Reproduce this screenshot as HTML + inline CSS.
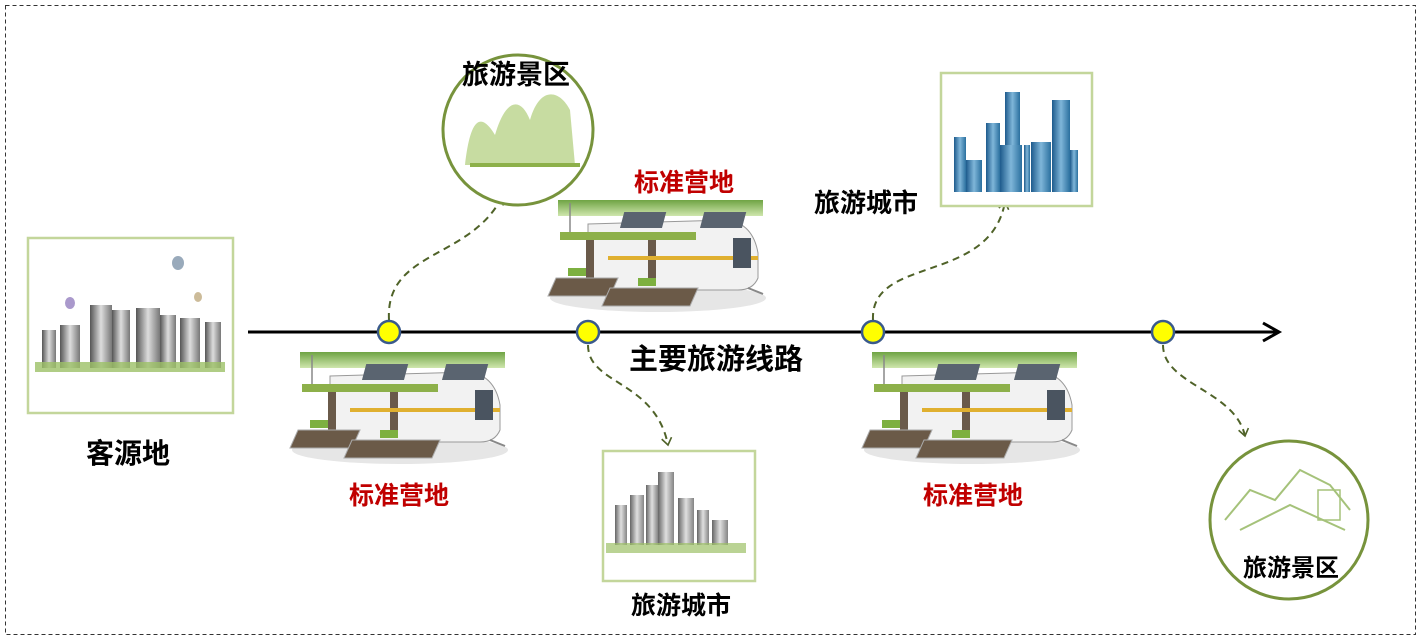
<!DOCTYPE html>
<html><head><meta charset="utf-8"><style>
html,body{margin:0;padding:0;background:#fff}
svg{display:block}
text{font-family:"Liberation Sans","Noto Sans CJK SC",sans-serif;font-weight:bold}
</style></head><body>
<svg width="1422" height="639" viewBox="0 0 1422 639" xmlns="http://www.w3.org/2000/svg">
<defs>
<linearGradient id="grass" x1="0" x2="0" y1="0" y2="1"><stop offset="0" stop-color="#5f9a2f"/><stop offset="1" stop-color="#c9e3a4"/></linearGradient>
<linearGradient id="bldg" x1="0" x2="1"><stop offset="0" stop-color="#1d5a8c"/><stop offset="0.5" stop-color="#7fb6d9"/><stop offset="1" stop-color="#2a6f9e"/></linearGradient>
<linearGradient id="gbldg" x1="0" x2="1"><stop offset="0" stop-color="#555"/><stop offset="0.5" stop-color="#ddd"/><stop offset="1" stop-color="#777"/></linearGradient>
<marker id="ah" markerWidth="12" markerHeight="12" refX="9" refY="6" orient="auto" markerUnits="userSpaceOnUse"><path d="M2,1 L9,6 L2,11" fill="none" stroke="#4f6228" stroke-width="1.6"/></marker>
<g id="car">
<ellipse cx="110" cy="100" rx="108" ry="14" fill="#e6e6e6"/>
<rect x="10" y="2" width="205" height="16" fill="url(#grass)" opacity="0.9"/>
<line x1="22" y1="5" x2="22" y2="38" stroke="#888" stroke-width="1.5"/>
<path d="M40,26 L180,22 Q205,26 210,55 L210,80 Q205,92 190,92 L40,92 Z" fill="#f2f2f2" stroke="#999"/>
<rect x="80" y="14" width="42" height="16" fill="#5a6470" transform="skewX(-15)"/>
<rect x="160" y="14" width="42" height="16" fill="#5a6470" transform="skewX(-15)"/>
<rect x="12" y="34" width="70" height="8" fill="#8db04a"/>
<rect x="66" y="34" width="82" height="8" fill="#8db04a"/>
<rect x="38" y="42" width="8" height="40" fill="#6a5a4a"/>
<rect x="100" y="42" width="8" height="46" fill="#6a5a4a"/>
<rect x="60" y="58" width="150" height="4" fill="#e0b030"/>
<rect x="185" y="40" width="18" height="30" fill="#4a5460"/>
<path d="M8,80 L70,80 L62,98 L0,98 Z" fill="#6b5a48" stroke="#aaa"/>
<path d="M62,90 L150,90 L142,108 L54,108 Z" fill="#6b5a48" stroke="#aaa"/>
<rect x="20" y="70" width="18" height="8" fill="#7db040"/>
<rect x="90" y="80" width="18" height="8" fill="#7db040"/>
<line x1="200" y1="90" x2="215" y2="96" stroke="#888" stroke-width="2"/>
</g>
</defs>
<rect x="5.5" y="5.5" width="1410" height="629" fill="none" stroke="#333" stroke-width="1" stroke-dasharray="4,3"/>

<line x1="248" y1="332" x2="1277" y2="332" stroke="#000" stroke-width="3"/>
<path d="M1263,323 L1279,332 L1263,341" fill="none" stroke="#000" stroke-width="3"/>

<g fill="none" stroke="#4f6228" stroke-width="2" stroke-dasharray="7,5" marker-end="url(#ah)">
<path d="M389,320 C385,250 470,260 502,197"/>
<path d="M588,345 C588,385 655,380 668,445"/>
<path d="M873,320 C870,255 990,285 1005,202"/>
<path d="M1163,345 C1163,385 1235,390 1245,436"/>
</g>

<g fill="#ffff00" stroke="#3a5a8c" stroke-width="2.5">
<circle cx="389" cy="332" r="11"/><circle cx="588" cy="332" r="11"/><circle cx="873" cy="332" r="11"/><circle cx="1163" cy="332" r="11"/>
</g>

<rect x="28" y="238" width="205" height="175" fill="#fff" stroke="#c3d69b" stroke-width="2.5"/>
<g>
<rect x="42" y="330" width="14" height="38" fill="url(#gbldg)"/>
<rect x="60" y="325" width="20" height="43" fill="url(#gbldg)"/>
<rect x="90" y="305" width="22" height="63" fill="url(#gbldg)"/>
<rect x="112" y="310" width="18" height="58" fill="url(#gbldg)"/>
<rect x="136" y="308" width="24" height="60" fill="url(#gbldg)"/>
<rect x="160" y="315" width="16" height="53" fill="url(#gbldg)"/>
<rect x="180" y="318" width="20" height="50" fill="url(#gbldg)"/>
<rect x="205" y="322" width="16" height="46" fill="url(#gbldg)"/>
<rect x="35" y="362" width="190" height="10" fill="#9cc066" opacity="0.8"/>
<ellipse cx="178" cy="263" rx="6" ry="7" fill="#9ab"/>
<ellipse cx="70" cy="303" rx="5" ry="6" fill="#a9c"/>
<ellipse cx="198" cy="297" rx="4" ry="5" fill="#cb9"/>
</g>
<text x="128" y="463" font-size="28" text-anchor="middle" fill="#000">客源地</text>

<circle cx="518" cy="130" r="75" fill="#fff" stroke="#77933c" stroke-width="3"/>
<path d="M465,165 C470,120 480,110 495,135 C505,100 520,95 530,120 C540,85 560,90 570,110 L575,165 Z" fill="#b9d389" opacity="0.8"/>
<path d="M470,165 L580,165" stroke="#8db04a" stroke-width="4"/>
<text x="516" y="84" font-size="27" text-anchor="middle" fill="#000">旅游景区</text>

<circle cx="1289" cy="520" r="79" fill="#fff" stroke="#77933c" stroke-width="3"/>
<path d="M1225,520 L1250,490 L1275,500 L1300,470 L1330,485 L1350,510" fill="none" stroke="#a5c27a" stroke-width="2"/>
<path d="M1240,530 L1290,505 L1345,530" fill="none" stroke="#a5c27a" stroke-width="2"/>
<rect x="1318" y="490" width="22" height="30" fill="none" stroke="#a5c27a" stroke-width="1.5"/>
<text x="1291" y="576" font-size="24" text-anchor="middle" fill="#000">旅游景区</text>

<rect x="941" y="73" width="151" height="133" fill="#fff" stroke="#c3d69b" stroke-width="2.5"/>
<g fill="url(#bldg)">
<rect x="954" y="137" width="12" height="55"/>
<rect x="966" y="160" width="16" height="32"/>
<rect x="986" y="123" width="14" height="69"/>
<rect x="1005" y="92" width="15" height="100"/>
<rect x="1000" y="145" width="22" height="47"/>
<rect x="1024" y="145" width="6" height="47"/>
<rect x="1031" y="142" width="20" height="50"/>
<rect x="1052" y="100" width="18" height="92"/>
<rect x="1070" y="150" width="8" height="42"/>
</g>
<text x="866" y="212" font-size="26" text-anchor="middle" fill="#000">旅游城市</text>

<rect x="603" y="451" width="152" height="130" fill="#fff" stroke="#c3d69b" stroke-width="2.5"/>
<g fill="url(#gbldg)" opacity="0.9">
<rect x="615" y="505" width="12" height="40"/>
<rect x="630" y="495" width="14" height="50"/>
<rect x="646" y="485" width="12" height="60"/>
<rect x="658" y="472" width="16" height="73"/>
<rect x="678" y="498" width="16" height="47"/>
<rect x="697" y="510" width="12" height="35"/>
<rect x="712" y="520" width="16" height="25"/>
</g>
<rect x="606" y="543" width="140" height="10" fill="#9cc066" opacity="0.7"/>
<text x="681" y="614" font-size="25" text-anchor="middle" fill="#000">旅游城市</text>

<use href="#car" transform="translate(548,198)"/>
<use href="#car" transform="translate(290,350)"/>
<use href="#car" transform="translate(862,350)"/>

<text x="684" y="191" font-size="25" text-anchor="middle" fill="#c00000">标准营地</text>
<text x="399" y="504" font-size="25" text-anchor="middle" fill="#c00000">标准营地</text>
<text x="973" y="504" font-size="25" text-anchor="middle" fill="#c00000">标准营地</text>
<text x="716" y="369" font-size="29" text-anchor="middle" fill="#000">主要旅游线路</text>
</svg>
</body></html>
